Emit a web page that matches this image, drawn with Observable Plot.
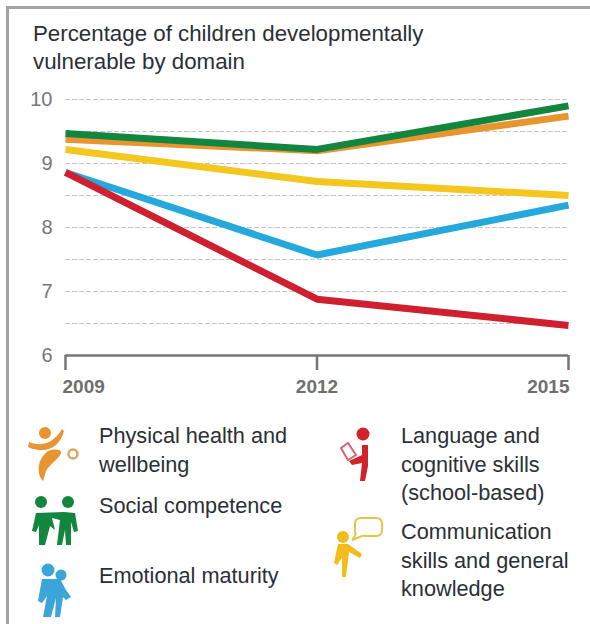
<!DOCTYPE html>
<html><head><meta charset="utf-8">
<script src="https://cdn.jsdelivr.net/npm/d3@7"></script>
<script src="https://cdn.jsdelivr.net/npm/@observablehq/plot@0.6"></script>
<style>
html,body{margin:0;padding:0;background:#fff}
#page{position:relative;width:590px;height:624px;overflow:hidden;font-family:"Liberation Sans",sans-serif;color:#2b2f36}
#frame{position:absolute;left:6px;top:6px;width:590px;height:640px;border:3px solid #a3a3a3;box-sizing:border-box}
#title{position:absolute;left:33px;top:20px;font-size:22.3px;line-height:28px;white-space:nowrap}
#plot{position:absolute;left:0;top:85px}
.lg{position:absolute;font-size:21.7px;line-height:28.5px;white-space:nowrap}
#icons{position:absolute;left:0;top:0}
</style></head><body>
<div id="page">
<div id="frame"></div>
<div id="title">Percentage of children developmentally<br>vulnerable by domain</div>
<div id="plot"></div>

<svg id="icons" width="590" height="624" viewBox="0 0 590 624">
<g fill="#e8952f">
<circle cx="45" cy="433" r="6"/>
<path d="M29 442C38 446 52 446 62 429L64 431C60 447 46 455 28 447Z"/>
<path d="M48 451C54 449 60 449 61 452C62 456 50 464 46 471L43 481C37 475 36 460 48 451Z"/>
</g>
<circle cx="73" cy="454" r="4.5" fill="none" stroke="#dba95f" stroke-width="2.5"/>
<g fill="#12863e">
<circle cx="41" cy="502" r="6"/><circle cx="68" cy="502" r="6"/>
<path d="M36 513L64 512L75 513L78 531L74 532L71 522L71 545L66 545L65 530L62 545L57 545L60 520L52 518L55 530L50 526L49 530L45 545L39 545L39 525L36 532L32 531Z"/>
</g>
<g fill="#3ba4d9">
<circle cx="48" cy="570" r="6.5"/><circle cx="61" cy="575" r="5.5"/>
<path d="M42 579H60L66 590L71 597L66 600L63 597L60 617L55 617L56 598L51 617L43 617L47 596L42 603L38 601Z"/>
</g>
<g fill="#d2232a">
<circle cx="363" cy="434" r="6.5"/>
<path d="M362 445H368V466L365 481H360L362 463L352 465L349 461L362 455Z"/>
</g>
<path d="M341 448L348 443L356 455L348 460Z" fill="#fff" stroke="#d2686c" stroke-width="2"/>
<g fill="#f1bd1c">
<circle cx="343" cy="537" r="6"/>
<path d="M338 544H348L362 554L360 558L349 552L346 577H342L342 558L337 565L334 563Z"/>
</g>
<path d="M355 524Q355 518 361 518H376Q382 518 382 524V530Q382 536 376 536H362L352 540Q357 535 355 531Z" fill="#fff" stroke="#e6c34a" stroke-width="2"/>
</svg>

<div class="lg" style="left:99px;top:422px">Physical health and<br>wellbeing</div>
<div class="lg" style="left:99px;top:492px">Social competence</div>
<div class="lg" style="left:99px;top:562px">Emotional maturity</div>
<div class="lg" style="left:401px;top:422px">Language and<br>cognitive skills<br>(school-based)</div>
<div class="lg" style="left:401px;top:518px">Communication<br>skills and general<br>knowledge</div>
</div>
<script>
const years = [2009, 2012, 2015];
const physical = [9.38, 9.2, 9.74];
const social = [9.47, 9.22, 9.9];
const communication = [9.22, 8.72, 8.5];
const emotional = [8.86, 7.57, 8.35];
const language = [8.86, 6.88, 6.47];
const gridValues = [6.5, 7, 7.5, 8, 8.5, 9, 9.5, 10];
const yTicks = [6, 7, 8, 9, 10];

const COL = {physical:"#e8952f", social:"#12863e", communication:"#f3c71e", emotional:"#25a9dc", language:"#cf2030"};
const rows = v => years.map((year, i) => ({year, value: v[i]}));
const series = (v, c) => Plot.line(rows(v), {x:"year", y:"value", stroke:c, strokeWidth:7, strokeLinecap:"butt", strokeLinejoin:"miter"});
const yearLabel = (yr, anchor, dx) => Plot.text([yr], {x:d=>d, y:6, text:d=>String(d), textAnchor:anchor, dx, dy:31, fontSize:19, fontWeight:"bold", fill:"#6f6f6f"});

const chart = Plot.plot({
  width:590, height:320,
  marginTop:14, marginBottom:50, marginLeft:65, marginRight:22,
  style:{fontFamily:"'Liberation Sans',sans-serif", background:"transparent"},
  x:{domain:[2009,2015]},
  y:{domain:[6,10], axis:null},
  marks:[
    Plot.ruleY(gridValues, {stroke:"#c6c6c6", strokeWidth:1, strokeDasharray:"5 2"}),
    Plot.text(yTicks, {x:2009, y:d=>d, text:d=>String(d), textAnchor:"end", dx:-13, fontSize:20, fill:"#777"}),
    Plot.axisX({ticks:years, tickSize:15, tickFormat:()=>"", stroke:"#757575", strokeWidth:2.5, label:null}),
    Plot.ruleY([6], {stroke:"#757575", strokeWidth:2.5}),
    series(physical, COL.physical),
    series(social, COL.social),
    series(communication, COL.communication),
    series(emotional, COL.emotional),
    series(language, COL.language),
    yearLabel(2009, "start", -3),
    yearLabel(2012, "middle", 0),
    yearLabel(2015, "end", 1)
  ]
});
document.getElementById("plot").appendChild(chart);
</script>
</body></html>
